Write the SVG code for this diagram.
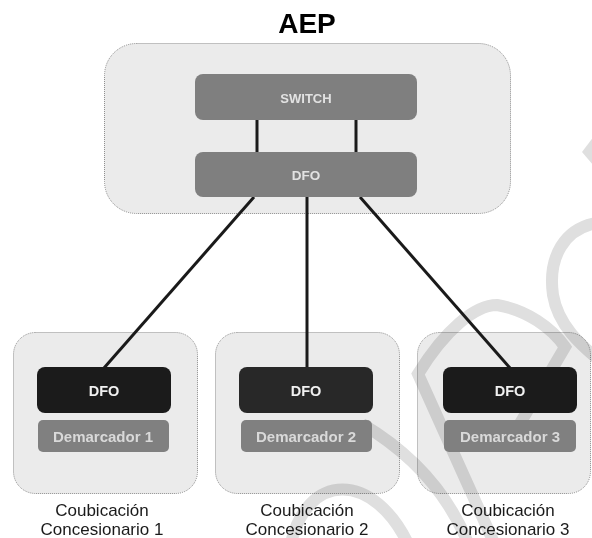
<svg xmlns="http://www.w3.org/2000/svg" width="592" height="538" viewBox="0 0 592 538">
<style>
.outer{fill:#ebebeb;stroke:#8a8a8a;stroke-width:1;stroke-dasharray:1 1}
.mid{fill:#7f7f7f}
.dark{fill:#1b1b1b}
.dem{fill:#808080}
.lbl{font-family:"Liberation Sans",Arial,sans-serif;font-weight:bold;text-anchor:middle}
.cap{font-family:"Liberation Sans",Arial,sans-serif;font-size:17px;fill:#1a1a1a;text-anchor:middle}
.conn{stroke:#1a1a1a;stroke-width:3;fill:none}
.wm{fill:none;stroke:#dfdfdf;stroke-width:12}
</style>
<rect width="592" height="538" fill="#ffffff"/>
<text x="307" y="33" font-family="'Liberation Sans',Arial,sans-serif" font-weight="bold" font-size="28" text-anchor="middle" fill="#000">AEP</text>
<g id="aep">
<rect class="outer" x="104.5" y="43.5" width="406" height="170" rx="32"/>
</g>
<g id="coub1"><rect class="outer" x="13.5" y="332.5" width="184" height="161" rx="22"/></g>
<g id="coub2"><rect class="outer" x="215.5" y="332.5" width="184" height="161" rx="22"/></g>
<g id="coub3"><rect class="outer" x="417.5" y="332.5" width="173" height="161" rx="22"/></g>
<g id="watermark" style="mix-blend-mode:multiply">
<path class="wm" d="M 290 548 C 305 470, 375 470, 410 548"/>
<path class="wm" d="M 362 424 Q 440 470 470 548"/>
<path class="wm" d="M 495 545 L 418 374 C 445 330, 475 305, 497 305 C 527 310, 552 328, 565 347 L 515 432"/>
<path class="wm" d="M 605 222 C 562 225, 548 260, 553 295 C 558 325, 580 345, 605 365"/>
<polygon points="594,136 582,152 594,166" fill="#dfdfdf"/>
</g>
<g id="connectors">
<line class="conn" x1="257" y1="120" x2="257" y2="152"/>
<line class="conn" x1="356" y1="120" x2="356" y2="152"/>
<line class="conn" x1="254" y1="197" x2="104" y2="368"/>
<line class="conn" x1="307" y1="197" x2="307" y2="368"/>
<line class="conn" x1="360" y1="197" x2="510" y2="368"/>
</g>
<g id="switch">
<rect class="mid" x="195" y="74" width="222" height="46" rx="8"/>
<text class="lbl" x="306" y="102.5" font-size="13" fill="#e2e2e2">SWITCH</text>
</g>
<g id="dfo-aep">
<rect class="mid" x="195" y="152" width="222" height="45" rx="8"/>
<text class="lbl" x="306" y="179.5" font-size="13.5" fill="#e2e2e2">DFO</text>
</g>
<g id="dfo1">
<rect class="dark" x="37" y="367" width="134" height="46" rx="8"/>
<text class="lbl" x="104" y="395.5" font-size="14.5" fill="#f0f0f0">DFO</text>
</g>
<g id="dem1">
<rect class="dem" x="38" y="420" width="131" height="32" rx="5"/>
<text class="lbl" x="103" y="441.5" font-size="15" fill="#d9d9d9">Demarcador 1</text>
</g>
<g id="dfo2">
<rect x="239" y="367" width="134" height="46" rx="8" fill="#282828"/>
<text class="lbl" x="306" y="395.5" font-size="14.5" fill="#f0f0f0">DFO</text>
</g>
<g id="dem2">
<rect class="dem" x="241" y="420" width="131" height="32" rx="5"/>
<text class="lbl" x="306" y="441.5" font-size="15" fill="#d9d9d9">Demarcador 2</text>
</g>
<g id="dfo3">
<rect class="dark" x="443" y="367" width="134" height="46" rx="8"/>
<text class="lbl" x="510" y="395.5" font-size="14.5" fill="#f0f0f0">DFO</text>
</g>
<g id="dem3">
<rect class="dem" x="444" y="420" width="132" height="32" rx="5"/>
<text class="lbl" x="510" y="441.5" font-size="15" fill="#d9d9d9">Demarcador 3</text>
</g>
<g id="captions">
<text class="cap" x="102" y="516">Coubicación</text>
<text class="cap" x="102" y="535">Concesionario 1</text>
<text class="cap" x="307" y="516">Coubicación</text>
<text class="cap" x="307" y="535">Concesionario 2</text>
<text class="cap" x="508" y="516">Coubicación</text>
<text class="cap" x="508" y="535">Concesionario 3</text>
</g>
</svg>
